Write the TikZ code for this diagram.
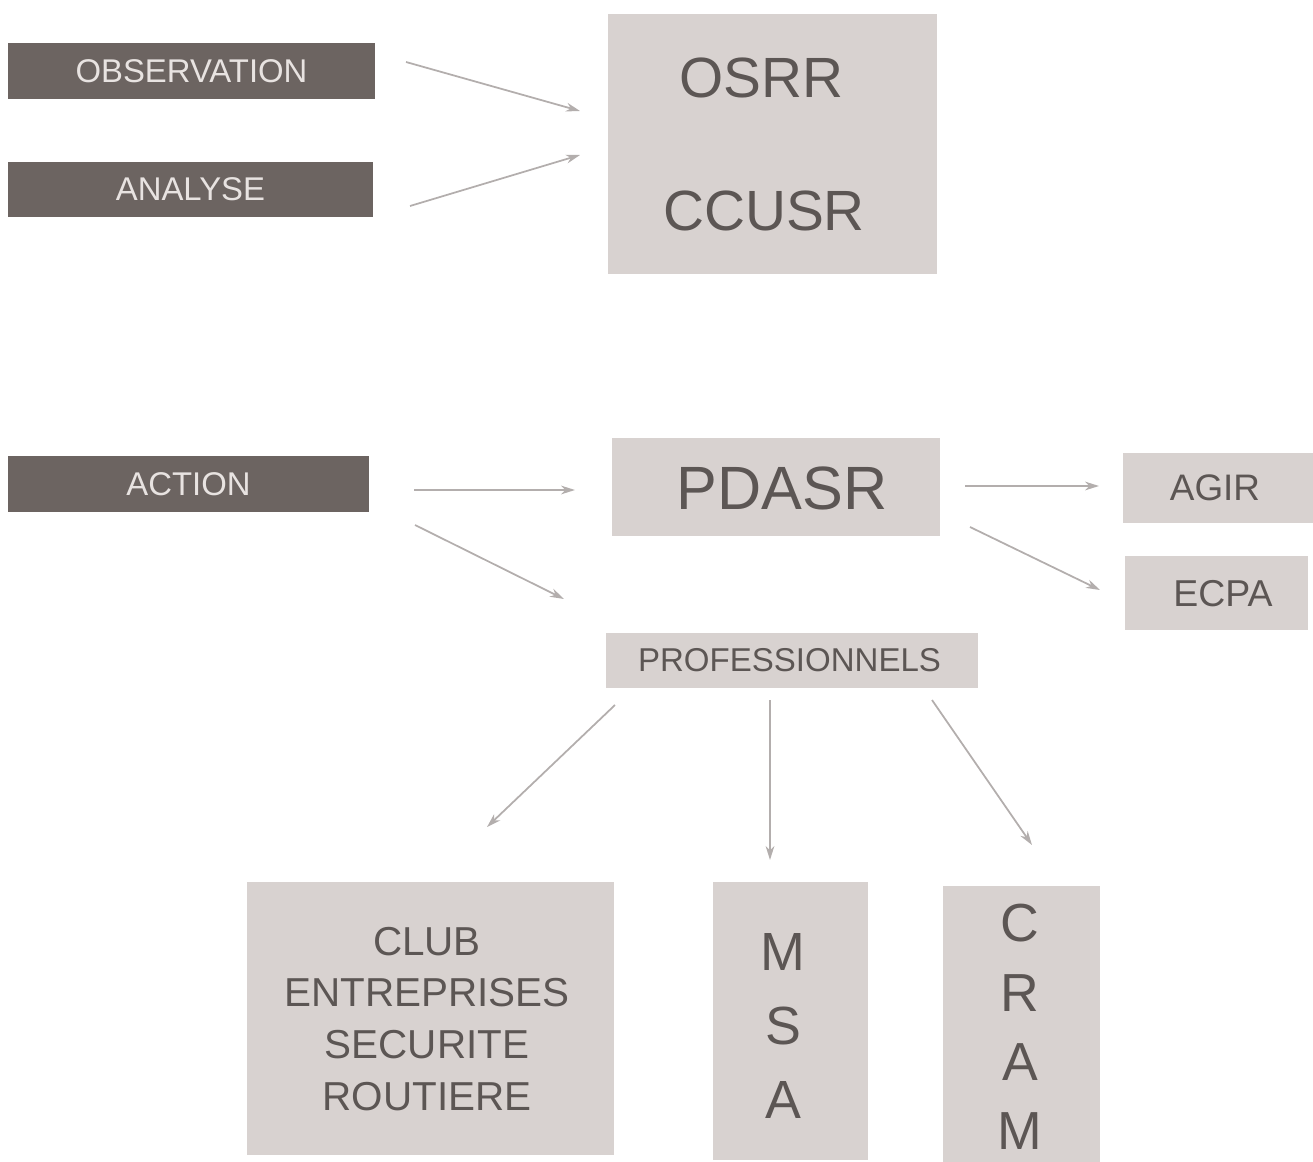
\documentclass[tikz,border=0pt]{standalone}
\usepackage{fontspec}
\setmainfont{Liberation Sans}
\usetikzlibrary{arrows.meta}
\definecolor{darkbox}{HTML}{6C6461}
\definecolor{lightbox}{HTML}{D8D2D0}
\definecolor{darktext}{HTML}{5C5654}
\definecolor{lighttext}{HTML}{E8E3E1}
\definecolor{arrowcol}{HTML}{B3AEAD}
\tikzset{
  darkrect/.style={rectangle, fill=darkbox, draw=none, inner sep=0pt, text=lighttext, font=\fontsize{18.7}{22}\selectfont},
  lightrect/.style={rectangle, fill=lightbox, draw=none, inner sep=0pt, text=darktext},
  txt/.style={inner sep=0pt, text=darktext, align=center},
  conn/.style={draw=arrowcol, line width=1pt, -{Stealth[length=8pt,width=5pt]}}
}
\begin{document}
\begin{tikzpicture}[x=0.02cm, y=-0.02cm]
\useasboundingbox (0,0) rectangle (1313,1162);
% left dark boxes
\node[darkrect, minimum width={367*0.02cm}, minimum height={56*0.02cm}] (obs) at (191.5,71) {OBSERVATION};
\node[darkrect, minimum width={365*0.02cm}, minimum height={55*0.02cm}] (ana) at (190.5,189.5) {ANALYSE};
\node[darkrect, minimum width={361*0.02cm}, minimum height={56*0.02cm}] (act) at (188.5,484) {ACTION};
% OSRR / CCUSR
\node[lightrect, minimum width={329*0.02cm}, minimum height={260*0.02cm}] (obsbox) at (772.5,144) {};
\node[txt, font=\fontsize{32.3}{36}\selectfont] (osrr) at (761,78) {OSRR};
\node[txt, font=\fontsize{32.3}{36}\selectfont] (ccusr) at (764,211) {CCUSR};
% PDASR
\node[lightrect, minimum width={328*0.02cm}, minimum height={98*0.02cm}] (pdasr) at (776,487) {};
\node[txt, font=\fontsize{34.8}{38}\selectfont] (pdasrtxt) at (782,488) {PDASR};
% AGIR / ECPA
\node[lightrect, minimum width={190*0.02cm}, minimum height={70*0.02cm}] (agir) at (1218,488) {};
\node[txt, font=\fontsize{21}{25}\selectfont] (agirtxt) at (1215,488) {AGIR};
\node[lightrect, minimum width={183*0.02cm}, minimum height={74*0.02cm}] (ecpa) at (1216.5,593) {};
\node[txt, font=\fontsize{21.3}{25}\selectfont] (ecpatxt) at (1223,594) {ECPA};
% PROFESSIONNELS
\node[lightrect, minimum width={372*0.02cm}, minimum height={55*0.02cm}] (pro) at (792,660.5) {};
\node[txt, font=\fontsize{18.8}{22}\selectfont] (protxt) at (789.5,660.5) {PROFESSIONNELS};
% bottom boxes
\node[lightrect, minimum width={367*0.02cm}, minimum height={273*0.02cm}] (club) at (430.5,1018.5) {};
\node[txt, font=\fontsize{23}{29.5}\selectfont] (clubtxt) at (427,1019) {CLUB\\ENTREPRISES\\SECURITE\\ROUTIERE};
\node[lightrect, minimum width={155*0.02cm}, minimum height={278*0.02cm}] (msa) at (790.5,1021) {};
\node[txt, font=\fontsize{30.6}{42}\selectfont] (msatxt) at (783,1026) {M\\S\\A};
\node[lightrect, minimum width={157*0.02cm}, minimum height={276*0.02cm}] (cram) at (1021.5,1024) {};
\node[txt, font=\fontsize{30.5}{39.5}\selectfont] (cramtxt) at (1020,1027) {C\\R\\A\\M};
% arrow endpoints
\coordinate (a1s) at (406,62);  \coordinate (a1e) at (580,111);
\coordinate (a2s) at (410,206); \coordinate (a2e) at (580,155);
\coordinate (a3s) at (414,490); \coordinate (a3e) at (575,490);
\coordinate (a4s) at (415,525); \coordinate (a4e) at (564,599);
\coordinate (a5s) at (965,486); \coordinate (a5e) at (1099,486);
\coordinate (a6s) at (970,527); \coordinate (a6e) at (1100,590);
\coordinate (a7s) at (615,705); \coordinate (a7e) at (487,827);
\coordinate (a8s) at (770,700); \coordinate (a8e) at (770,860);
\coordinate (a9s) at (932,700); \coordinate (a9e) at (1032,845);
\draw[conn] (a1s) -- (a1e);
\draw[conn] (a2s) -- (a2e);
\draw[conn] (a3s) -- (a3e);
\draw[conn] (a4s) -- (a4e);
\draw[conn] (a5s) -- (a5e);
\draw[conn] (a6s) -- (a6e);
\draw[conn] (a7s) -- (a7e);
\draw[conn] (a8s) -- (a8e);
\draw[conn] (a9s) -- (a9e);
\end{tikzpicture}
\end{document}
